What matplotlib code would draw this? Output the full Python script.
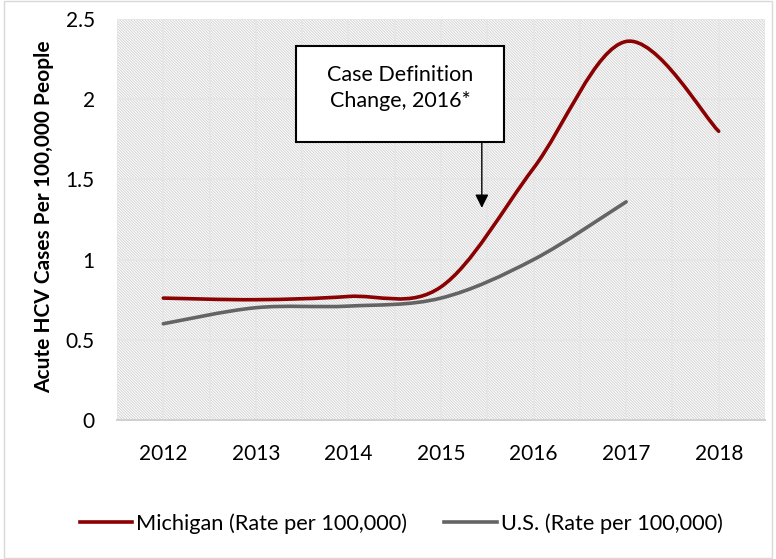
import matplotlib
matplotlib.use("Agg")
import matplotlib.pyplot as plt
from matplotlib.path import Path
from matplotlib.patches import PathPatch, Rectangle
import numpy as np

plt.rcParams['font.family'] = ['Lato', 'DejaVu Sans']
plt.rcParams['hatch.linewidth'] = 0.7

# data
years = [2012, 2013, 2014, 2015, 2016, 2017, 2018]
michigan = [0.76, 0.75, 0.77, 0.83, 1.57, 2.36, 1.80]
us_years = [2012, 2013, 2014, 2015, 2016, 2017]
us_rate = [0.60, 0.70, 0.71, 0.76, 1.00, 1.36]
labels = ['Michigan (Rate per 100,000)', 'U.S. (Rate per 100,000)']
colors = ['#8B0000', '#646464']


def smooth_path(xs, ys):
    # Excel-style smoothed line: cubic Bezier segments through the points
    pts = np.column_stack([xs, ys]).astype(float)
    n = len(pts)
    verts = [pts[0]]
    codes = [Path.MOVETO]
    for i in range(n - 1):
        p0 = pts[max(i - 1, 0)]
        p1 = pts[i]
        p2 = pts[i + 1]
        p3 = pts[min(i + 2, n - 1)]
        c1 = p1 + (p2 - p0) / 6.0
        c2 = p2 - (p3 - p1) / 6.0
        verts += [c1, c2, p2]
        codes += [Path.CURVE4] * 3
    return Path(verts, codes)


fig = plt.figure(figsize=(7.76, 5.59), dpi=100)
ax = fig.add_axes([0.1508, 0.2487, 0.835, 0.7173])

# hatched plot area
ax.set_facecolor('white')
bg = Rectangle((0, 0), 1, 1, transform=ax.transAxes, facecolor='white',
               edgecolor='#d4d4d4', hatch='\\' * 12, lw=0, zorder=0)
ax.add_patch(bg)

handles = []
for (xs, ys), lab, c in zip([(years, michigan), (us_years, us_rate)], labels, colors):
    patch = PathPatch(smooth_path(xs, ys), facecolor='none', edgecolor=c,
                      lw=2.6, capstyle='round', zorder=3)
    ax.add_patch(patch)
    h, = ax.plot([], [], color=c, lw=2.6, label=lab)
    handles.append(h)

ax.set_xlim(2011.5, 2018.5)
ax.set_ylim(0, 2.5)
ax.set_xticks(years)
ax.set_xticks(np.arange(2011.5, 2018.6, 0.5), minor=True)
ax.set_yticks([0, 0.5, 1, 1.5, 2, 2.5])
ax.set_yticklabels(['0', '0.5', '1', '1.5', '2', '2.5'])
ax.grid(True, which='both', axis='x', color='#e6e6e6', lw=1.4, zorder=1)
ax.grid(True, which='major', axis='y', color='#e6e6e6', lw=1.4, zorder=1)
ax.set_axisbelow(True)
ax.tick_params(axis='both', which='both', length=0, labelsize=15, colors='black')
ax.tick_params(axis='x', pad=17)
ax.tick_params(axis='y', pad=16)
for s in ['top', 'right', 'left']:
    ax.spines[s].set_visible(False)
ax.spines['bottom'].set_color('#d0d0d0')
ax.spines['bottom'].set_linewidth(1.4)

fig.text(44 / 776, 1 - 217 / 559, 'Acute HCV Cases Per 100,000 People',
         rotation=90, ha='center', va='center', fontsize=15, fontweight='bold')

# annotation box and arrow
box = Rectangle((0.276, 0.693), 0.321, 0.240, transform=ax.transAxes,
                facecolor='white', edgecolor='black', lw=1.5, zorder=5)
ax.add_patch(box)
ax.text(0.437, 0.828, 'Case Definition\nChange, 2016*', transform=ax.transAxes,
        ha='center', va='center', fontsize=15.5, linespacing=1.4, zorder=6)
ax.annotate('', xy=(0.563, 0.529), xytext=(0.563, 0.693),
            xycoords='axes fraction', textcoords='axes fraction',
            arrowprops=dict(arrowstyle='-|>', color='black', lw=1.0,
                            mutation_scale=20, shrinkA=0, shrinkB=0), zorder=6)

fig.legend(handles=handles, loc='center', bbox_to_anchor=(0.517, 0.064),
           ncol=2, frameon=False, fontsize=15.7, handlelength=2.4,
           handletextpad=0.2, columnspacing=1.7)

# outer chart border
fig.patches.append(Rectangle((0.005, 0.002), 0.99, 0.996, transform=fig.transFigure,
                             facecolor='none', edgecolor='#d9d9d9', lw=1.0))

fig.savefig('out.png', dpi=100)
